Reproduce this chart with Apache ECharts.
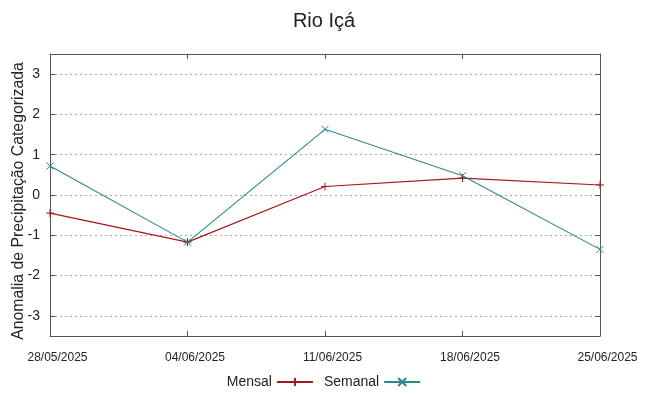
<!DOCTYPE html>
<html><head><meta charset="utf-8">
<script src="https://cdn.jsdelivr.net/npm/echarts@6/dist/echarts.min.js"></script>
<style>html,body{margin:0;padding:0;background:#fff}#c{width:648px;height:396px}</style>
</head><body><div id="c"></div>
<script>
const categories = ['28/05/2025','04/06/2025','11/06/2025','18/06/2025','25/06/2025'];
const mensal = [-0.45, -1.17, 0.21, 0.42, 0.25];
const semanal = [0.72, -1.17, 1.63, 0.48, -1.35];
const yTicks = [-3,-2,-1,0,1,2,3];
const yTitle = 'Anomalia de Precipitação Categorizada';

const FONT = 'Liberation Sans, Arial, sans-serif';
const plusPath = 'path://M0,-10L0,10M-10,0L10,0';
const crossPath = 'path://M-10,-10L10,10M-10,10L10,-10';
const red = '#a01818';
const teal = '#2a8a8a';

const chart = echarts.init(document.getElementById('c'), null, {renderer:'canvas'});
const axisLineStyle = {color:'#555', width:1};
chart.setOption({
  animation:false,
  title:{text:'Rio Içá', left:'center', top:6, textStyle:{fontFamily:FONT, fontSize:20, fontWeight:'normal', color:'#222'}},
  grid:{left:50, right:48, top:54, bottom:60, containLabel:false, outerBoundsMode:'none'},
  graphic:[{
    type:'text', x:19, y:201, rotation:Math.PI/2,
    style:{text:yTitle, fontFamily:FONT, fontSize:15.8, fill:'#222', align:'center', verticalAlign:'middle'}
  }],
  legend:{
    bottom:2, left:'center', align:'right', itemWidth:36, itemHeight:10, itemGap:10,
    textStyle:{fontFamily:FONT, fontSize:14, color:'#222'},
    data:['Mensal','Semanal']
  },
  xAxis:[{
    type:'category', data:categories, boundaryGap:false,
    axisLine:{onZero:false, lineStyle:axisLineStyle}, axisTick:{inside:true, length:5, lineStyle:axisLineStyle},
    axisLabel:{fontFamily:FONT, fontSize:12, color:'#222', margin:16, padding:[0,0,0,15]},
    splitLine:{show:false}
  },{
    type:'category', data:categories, boundaryGap:false, position:'top',
    axisLine:{show:true, onZero:false, lineStyle:axisLineStyle}, axisTick:{inside:true, length:5, lineStyle:axisLineStyle},
    axisLabel:{show:false}, splitLine:{show:false}
  }],
  yAxis:[{
    type:'value', min:-3.5, max:3.5, interval:0.5,
    axisLine:{show:true, onZero:false, lineStyle:axisLineStyle},
    axisTick:{show:true, inside:true, length:5, lineStyle:axisLineStyle, customValues:yTicks},
    axisLabel:{fontFamily:FONT, fontSize:14, color:'#222', margin:10, customValues:yTicks},
    splitLine:{show:false}
  },{
    type:'value', min:-3.5, max:3.5, interval:0.5, position:'right',
    axisLine:{show:true, onZero:false, lineStyle:axisLineStyle},
    axisTick:{show:true, inside:true, length:5, lineStyle:axisLineStyle, customValues:yTicks},
    axisLabel:{show:false}, splitLine:{show:false}
  }],
  series:[
    {name:'Mensal', type:'line', data:mensal, color:red, symbol:plusPath, symbolSize:8, showSymbol:true,
     lineStyle:{color:red, width:1.1}, itemStyle:{color:red, borderColor:red, borderWidth:1}},
    {name:'Semanal', type:'line', data:semanal, color:teal, symbol:crossPath, symbolSize:7, showSymbol:true,
     lineStyle:{color:teal, width:1.1}, itemStyle:{color:teal, borderColor:teal, borderWidth:1},
     markLine:{silent:true, symbol:'none', label:{show:false}, z:0,
       lineStyle:{color:'#aaa', type:[2,3], width:1},
       data:yTicks.map(v=>({yAxis:v}))}}
  ]
});
</script></body></html>
